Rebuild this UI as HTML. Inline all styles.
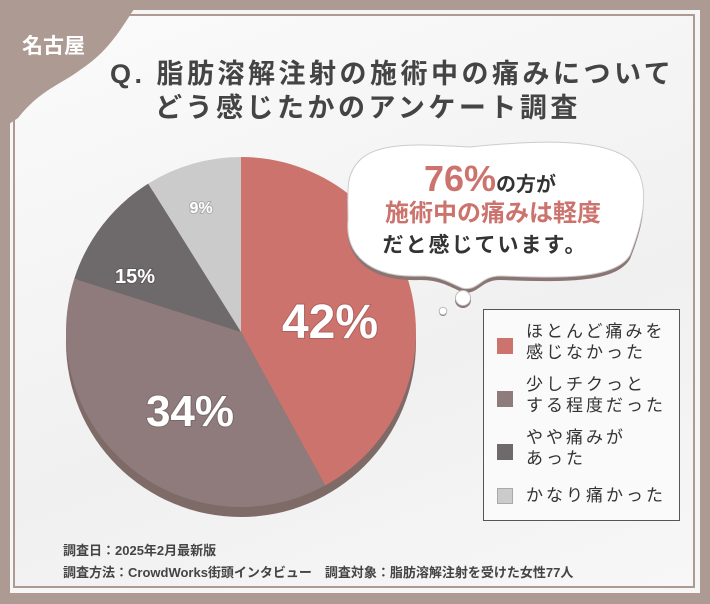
<!DOCTYPE html>
<html><head><meta charset="utf-8"><style>
body{margin:0;width:710px;height:604px;background:#ad9a93;font-family:"Liberation Sans","Noto Sans CJK JP",sans-serif;overflow:hidden;position:relative}
.w{position:absolute;left:10px;top:10px;width:690px;height:583px;background:#f6f6f6}
.in{position:absolute;left:13px;top:14px;width:678px;height:570px;border:2px solid #ad9a93;background:linear-gradient(160deg,#fbfbfb,#f0f0f0 60%,#f7f7f7)}
.t{position:absolute;color:#444;font-weight:bold;font-size:27px;white-space:nowrap;letter-spacing:3.5px}
.lg{position:absolute;left:483px;top:309px;width:195px;height:210px;border:1.5px solid #555;background:#fafafa}
.it{position:absolute;left:12px;font-size:17px;letter-spacing:3px;line-height:21px;color:#333}
.sq{position:absolute;left:-0px;width:16px;height:16px}
.ft{position:absolute;left:63px;font-size:13px;font-weight:bold;color:#444;white-space:nowrap}
</style></head><body>
<div class="w"></div><div class="in"></div>
<svg style="position:absolute;left:0;top:0" width="710" height="604">
<path d="M0 0 H140 C120 30 110 50 80 70 C60 85 40 90 18 118 L0 130 Z" fill="#ad9a93"/>
<text x="22" y="53" font-size="21" fill="#fff" font-weight="bold" font-family="Liberation Sans,Noto Sans CJK JP,sans-serif">名古屋</text>
<g transform="translate(241,342)"><circle r="175" fill="#7e6a67"/></g>
<g transform="translate(241,332)">
<path d="M0 0 L0 -175 A175 175 0 0 1 84.2 153.4 Z" fill="#cd736d"/>
<path d="M0 0 L84.2 153.4 A175 175 0 0 1 -166.7 -53.3 Z" fill="#8f7b7b"/>
<path d="M0 0 L-166.7 -53.3 A175 175 0 0 1 -92.8 -148.4 Z" fill="#6e6a6b"/>
<path d="M0 0 L-92.8 -148.4 A175 175 0 0 1 0 -175 Z" fill="#cbcbcb"/>
</g>
<g font-family="Liberation Sans,sans-serif" fill="#fff" font-weight="bold" text-anchor="middle" style="paint-order:stroke" stroke="rgba(0,0,0,0.15)" stroke-width="2">
<text x="330" y="338" font-size="48">42%</text>
<text x="190" y="426" font-size="44">34%</text>
<text x="135" y="283" font-size="20">15%</text>
<text x="201" y="213" font-size="16">9%</text>
</g>
<path d="M360 160 C380 140 430 145 470 147 C520 142 600 135 630 160 C655 185 640 230 630 255 C615 280 560 278 500 276 C480 276 478 292 462 288 C448 282 440 276 420 276 C370 278 345 255 348 220 C348 190 345 175 360 160 Z" fill="#8a7572" transform="translate(0,4)"/>
<path d="M360 160 C380 140 430 145 470 147 C520 142 600 135 630 160 C655 185 640 230 630 255 C615 280 560 278 500 276 C480 276 478 292 462 288 C448 282 440 276 420 276 C370 278 345 255 348 220 C348 190 345 175 360 160 Z" fill="#fff" stroke="#ccc"/>
<circle cx="463" cy="300" r="8" fill="#8a7572"/><circle cx="463" cy="298" r="7.5" fill="#fff" stroke="#bbb"/>
<circle cx="443" cy="312" r="4" fill="#8a7572"/><circle cx="443" cy="311" r="3.8" fill="#fff" stroke="#bbb"/>
<g font-family="Liberation Sans,Noto Sans CJK JP,sans-serif" text-anchor="middle" font-weight="bold">
<text x="490" y="191" font-size="20" fill="#333"><tspan font-size="36" fill="#cd736d">76%</tspan>の方が</text>
<text x="493" y="221" font-size="24" fill="#cd736d">施術中の痛みは軽度</text>
<text x="485" y="252" font-size="21" fill="#333" letter-spacing="2">だと感じています。</text>
</g>
</svg>
<div class="t" style="left:110px;top:52px">Q. 脂肪溶解注射の施術中の痛みについて</div>
<div class="t" style="left:155px;top:86px">どう感じたかのアンケート調査</div>
<div class="lg">
<div class="sq" style="left:13px;top:28px;background:#cd736d"></div><div class="it" style="left:42px;top:11px">ほとんど痛みを<br>感じなかった</div>
<div class="sq" style="left:13px;top:81px;background:#8f7b7b"></div><div class="it" style="left:42px;top:64px">少しチクっと<br>する程度だった</div>
<div class="sq" style="left:13px;top:134px;background:#6e6a6b"></div><div class="it" style="left:42px;top:117px">やや痛みが<br>あった</div>
<div class="sq" style="left:13px;top:178px;background:#cbcbcb;border:1px solid #aaa;width:14px;height:14px"></div><div class="it" style="left:42px;top:175px">かなり痛かった</div>
</div>
<div class="ft" style="top:540px">調査日：2025年2月最新版</div>
<div class="ft" style="top:562px">調査方法：CrowdWorks街頭インタビュー　調査対象：脂肪溶解注射を受けた女性77人</div>
</body></html>
